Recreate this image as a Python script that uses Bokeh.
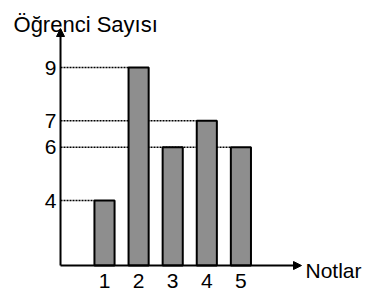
from bokeh.plotting import figure
from bokeh.models import Range1d, Arrow, NormalHead
from bokeh.embed import file_html
from bokeh.resources import INLINE
from bokeh.core.properties import value

# ---- data ----
notlar = [1, 2, 3, 4, 5]
ogrenci_sayisi = [4, 9, 6, 7, 6]
y_ticks = [4, 6, 7, 9]
x_tick_labels = ["1", "2", "3", "4", "5"]
y_tick_labels = ["4", "6", "7", "9"]
x_title = "Notlar"
y_title = "Öğrenci Sayısı"

# ---- layout / style ----
W, H = 366, 293
BAR_W = 0.59
FONT = "Liberation Sans"
x_start, x_end = -2.050, 8.683
y_start, y_end = 0.504, 11.519
X0, Y0 = -0.29, 1.556          # axis origin
Y_TIP = 10.466
X_TIP = 6.777

p = figure(width=W, height=H, output_backend="svg", toolbar_location=None,
           x_range=Range1d(x_start, x_end), y_range=Range1d(y_start, y_end),
           x_axis_location=None, y_axis_location=None,
           min_border=0)
p.outline_line_color = None
p.grid.visible = False

# dotted guide lines: from y axis to the left edge of the last bar of that height
x1s = []
for t in y_ticks:
    idx = max(i for i, v in enumerate(ogrenci_sayisi) if v == t)
    x1s.append(notlar[idx] - BAR_W / 2)
p.segment(x0=[X0] * len(y_ticks), y0=y_ticks, x1=x1s, y1=y_ticks,
          line_color="black", line_width=1.5, line_dash="2 1")

p.vbar(x=notlar, top=ogrenci_sayisi, bottom=Y0, width=BAR_W,
       fill_color="#8e8e8e", line_color="black", line_width=2)

head = dict(size=8, fill_color="black", line_color="black", line_width=1)
p.add_layout(Arrow(end=NormalHead(**head), x_start=X0, y_start=Y0,
                   x_end=X0, y_end=Y_TIP, line_width=2, line_color="black"))
p.add_layout(Arrow(end=NormalHead(**head), x_start=X0, y_start=Y0,
                   x_end=X_TIP, y_end=Y0, line_width=2, line_color="black"))

# tick labels
p.text(x=[X0] * len(y_ticks), y=y_ticks, text=y_tick_labels, x_offset=-4,
       text_align="right", text_baseline="middle", text_font=value(FONT),
       text_font_size="21px", text_color="black")
p.text(x=notlar, y=[Y0] * len(notlar), text=x_tick_labels, y_offset=15,
       text_align="center", text_baseline="middle", text_font=value(FONT),
       text_font_size="21px", text_color="black")

# axis titles
p.text(x=[X0], y=[Y_TIP], text=[y_title], x_offset=-47, y_offset=-4,
       text_align="left", text_baseline="alphabetic", text_font=value(FONT),
       text_font_size="22px", text_color="black")
p.text(x=[X_TIP], y=[Y0], text=[x_title], x_offset=4, y_offset=5,
       text_align="left", text_baseline="middle", text_font=value(FONT),
       text_font_size="21px", text_color="black")

open("out.html", "w").write(file_html(p, INLINE))
